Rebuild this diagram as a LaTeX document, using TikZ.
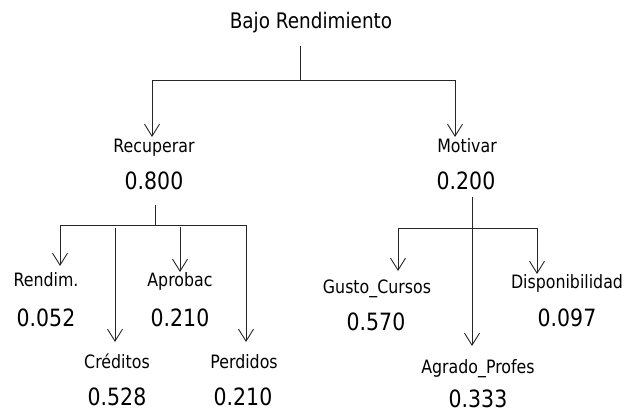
\documentclass[tikz,border=0pt]{standalone}
\usepackage{fontspec}
\setmainfont{DejaVu Sans}[FakeStretch=0.86]
\usetikzlibrary{arrows.meta}
\begin{document}
\begin{tikzpicture}[x=1pt,y=-1pt,
  lbl/.style={anchor=base,inner sep=0pt,font=\fontsize{18.4}{20}\selectfont},
  val/.style={anchor=base,inner sep=0pt,font=\fontsize{23.8}{26}\selectfont},
  ttl/.style={anchor=base,inner sep=0pt,font=\fontsize{21.4}{24}\selectfont},
  ln/.style={line width=0.9pt,draw=black!85},
  arr/.style={ln,-{Straight Barb[length=12pt,width=15pt,line width=0.9pt]}}]
\useasboundingbox (0,0) rectangle (625,414);
% texts
\node[ttl] (title) at (311,29) {Bajo Rendimiento};
\node[lbl] (recup) at (154,153) {Recuperar};
\node[val] (recupv) at (154,190) {0.800};
\node[lbl] (motiv) at (467,153) {Motivar};
\node[val] (motivv) at (466,190) {0.200};
\node[lbl] (rend) at (46,287) {Rendim.};
\node[val] (rendv) at (46,327) {0.052};
\node[lbl] (aprob) at (180,287) {Aprobac};
\node[val] (aprobv) at (180,327) {0.210};
\node[lbl] (cred) at (117,369) {Créditos};
\node[val] (credv) at (117,406) {0.528};
\node[lbl] (perd) at (244,369) {Perdidos};
\node[val] (perdv) at (243,406) {0.210};
\node[lbl] (gusto) at (377,294) {Gusto\_Cursos};
\node[val] (gustov) at (376,331) {0.570};
\node[lbl] (disp) at (567,289) {Disponibilidad};
\node[val] (dispv) at (567,327) {0.097};
\node[lbl] (agrado) at (478,374) {Agrado\_Profes};
\node[val] (agradov) at (478,408) {0.333};
% junction coordinates
\coordinate (s0) at (300,46);
\coordinate (j0) at (300,80);
\coordinate (l0) at (152,80);
\coordinate (r0) at (455,80);
\coordinate (trec) at (152,137);
\coordinate (tmot) at (455,137);
\coordinate (s1) at (155,205);
\coordinate (j1) at (155,225);
\coordinate (l1) at (60,225);
\coordinate (r1) at (246,225);
\coordinate (c1) at (115,228);
\coordinate (a1) at (180,227);
\coordinate (trend) at (60,266);
\coordinate (tcred) at (115,342);
\coordinate (taprob) at (180,272);
\coordinate (tperd) at (246,342);
\coordinate (s2) at (472,197);
\coordinate (j2) at (472,228);
\coordinate (l2) at (398,228);
\coordinate (r2) at (537,228);
\coordinate (tgusto) at (398,271);
\coordinate (tagr) at (472,346);
\coordinate (tdisp) at (537,274);
% connectors
\draw[ln] (s0) -- (j0);
\draw[ln] (l0) -- (r0);
\draw[arr] (l0) -- (trec);
\draw[arr] (r0) -- (tmot);
\draw[ln] (s1) -- (j1);
\draw[ln] (l1) -- (r1);
\draw[arr] (l1) -- (trend);
\draw[arr] (c1) -- (tcred);
\draw[arr] (a1) -- (taprob);
\draw[arr] (r1) -- (tperd);
\draw[ln] (s2) -- (j2);
\draw[ln] (l2) -- (r2);
\draw[arr] (l2) -- (tgusto);
\draw[arr] (j2) -- (tagr);
\draw[arr] (r2) -- (tdisp);
\end{tikzpicture}
\end{document}
